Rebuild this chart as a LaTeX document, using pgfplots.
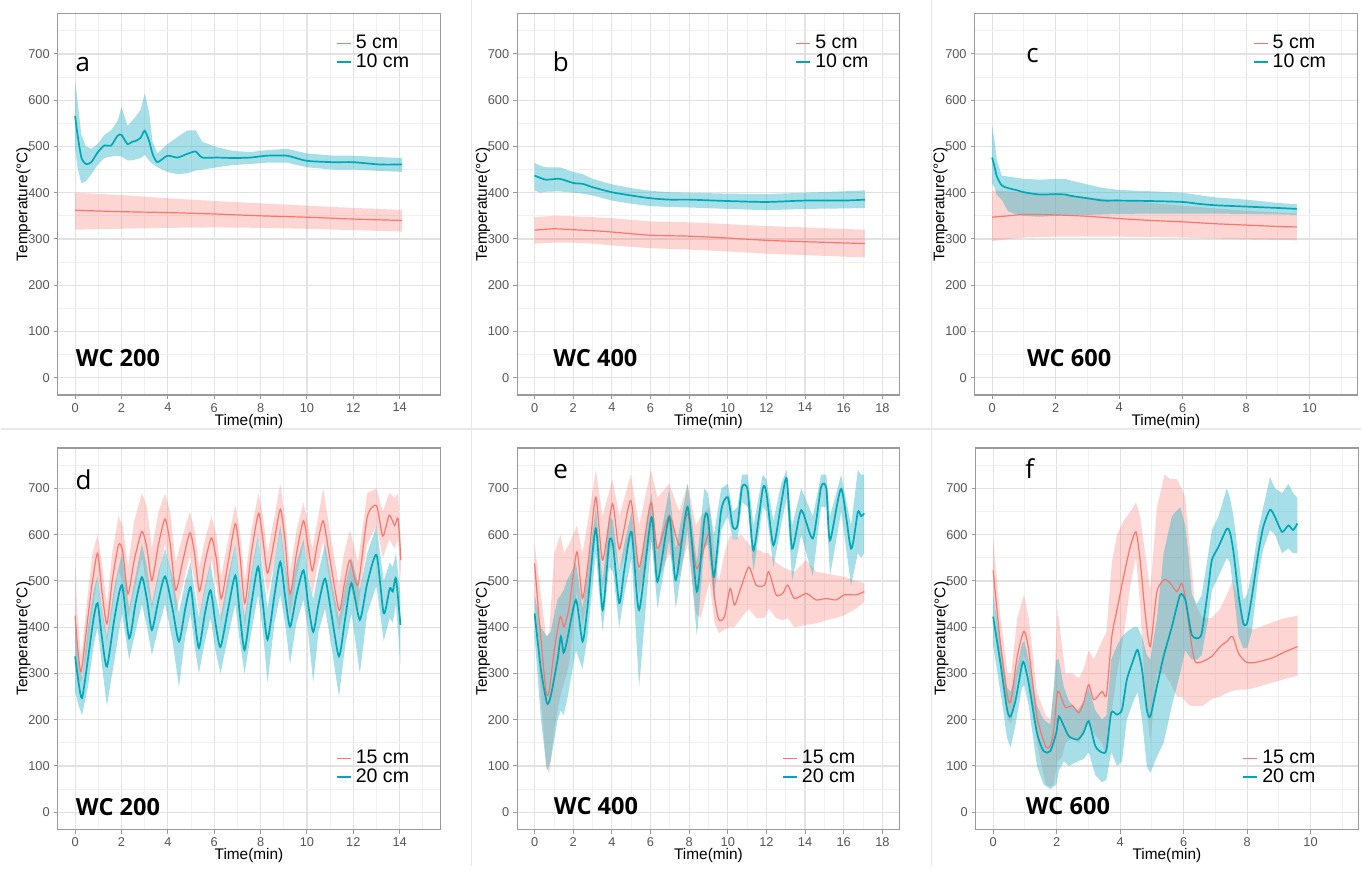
\documentclass[border=0pt]{standalone}
\usepackage{fontspec}
\setmainfont{Liberation Sans}
\newfontfamily\osans{Open Sans}
\usepackage{pgfplots}
\usepackage{pgfplotstable}
\pgfplotsset{compat=1.18}
\usepgfplotslibrary{fillbetween}

\definecolor{cred}{HTML}{F8766D}
\definecolor{cblue}{HTML}{2BB3C6}
\definecolor{cblueln}{HTML}{00A8B6}
\definecolor{gridmaj}{HTML}{E2E2E2}
\definecolor{gridmin}{HTML}{F0F0F0}
\definecolor{ticklab}{HTML}{555555}
\definecolor{frame}{HTML}{9A9A9A}

% t = time (min), m = mean, lo/hi = band
\pgfplotstableread{
t m lo hi
0 362 320 400
2 359 322 395
4 357 324 388
6 354 325 382
8 350 324 377
10 347 322 372
12 343 319 367
14.1 340 316 363
}\aRed
\pgfplotstableread{
t m lo hi
0 566 495 640
0.1 527 455 600
0.27 476 420 525
0.47 462 425 500
0.7 466 440 495
0.97 487 460 505
1.26 502 475 525
1.55 502 478 535
1.83 523 480 555
2.0 525 478 585
2.26 505 470 545
2.45 510 470 555
2.62 512 472 565
2.83 519 475 580
3.0 534 482 615
3.19 512 470 575
3.34 484 462 510
3.55 466 455 485
3.98 480 445 505
4.41 476 440 520
4.84 484 442 535
5.2 489 448 535
5.48 476 450 510
6.13 476 455 498
6.84 475 460 490
7.56 476 462 488
8.27 480 465 492
9.13 480 465 495
9.99 469 455 485
11.14 466 450 480
12.0 466 450 480
13.14 461 447 477
14.1 461 445 475
}\aBlue
\pgfplotstableread{
t m lo hi
0 319 290 347
1 322 292 350
2 320 292 349
3 318 290 347
4 315 286 345
6 308 280 338
8 306 277 336
10 302 273 332
12 297 268 328
14 294 265 325
17.1 290 260 320
}\bRed
\pgfplotstableread{
t m lo hi
0 437 405 465
0.3 432 400 458
0.6 428 402 455
1.3 430 403 455
2 421 400 445
2.5 419 398 440
3 412 394 430
4 401 383 418
5 394 376 410
6 388 371 404
7 385 369 401
8 385 368 400
10 382 365 398
12 380 362 397
14 383 365 400
16 383 366 403
17.1 385 367 405
}\bBlue
\pgfplotstableread{
t m lo hi
0 347 295 405
0.5 350 300 403
1 353 303 400
2 352 305 395
3 349 305 390
4 344 305 385
5 340 304 378
6 337 303 372
7 333 301 366
8 330 299 361
9 327 298 357
9.6 326 297 355
}\cRed
\pgfplotstableread{
t m lo hi
0 476 420 545
0.08 455 410 510
0.15 435 395 470
0.3 416 385 437
0.5 410 360 435
0.8 405 352 432
1 401 350 430
1.5 396 348 428
2 397 350 430
2.3 396 352 430
2.5 393 352 426
3 388 352 418
3.5 383 353 410
4 383 354 406
5 382 355 403
6 380 355 400
6.5 376 355 395
7 373 355 390
8 370 354 385
9 367 353 378
9.6 365 352 375
}\cBlue
\pgfplotstableread{
t m lo hi
0 425 330 545
0.1 360 290 430
0.26 304 280 335
0.5 400 340 450
0.75 500 440 560
0.97 560 510 600
1.15 480 430 540
1.37 407 370 450
1.6 500 440 560
1.87 578 520 640
2.05 565 500 620
2.28 472 420 530
2.55 545 480 630
2.88 607 550 690
3.1 570 490 660
3.31 501 440 570
3.6 580 510 650
3.88 634 580 690
4.1 580 520 650
4.34 480 430 540
4.65 545 490 600
4.95 604 555 650
5.15 560 500 610
5.36 478 425 530
5.6 540 480 590
5.88 593 545 640
6.1 545 490 600
6.3 462 410 510
6.6 540 490 590
6.91 624 580 665
7.1 560 500 610
7.32 452 400 500
7.6 560 510 610
7.91 646 600 690
8.1 590 530 640
8.3 517 470 560
8.6 590 540 640
8.85 655 610 710
9.05 590 530 640
9.27 472 420 520
9.55 560 510 610
9.85 630 580 670
10.05 575 520 620
10.23 522 470 570
10.45 580 530 630
10.7 630 585 700
10.95 560 510 620
11.38 437 390 490
11.6 490 440 560
11.85 545 490 610
12.2 491 440 540
12.6 638 580 690
13.0 663 620 700
13.27 597 550 650
13.55 642 590 690
13.78 620 570 680
13.93 635 590 690
14.05 545 500 580
}\dRed
\pgfplotstableread{
t m lo hi
0 337 260 430
0.15 280 230 330
0.3 247 210 290
0.55 330 270 400
0.8 420 360 480
0.97 452 400 510
1.15 380 320 440
1.37 315 230 380
1.7 420 330 490
2.02 491 430 560
2.33 376 330 440
2.6 450 390 510
2.88 508 450 580
3.1 460 400 530
3.31 394 340 450
3.6 460 400 520
3.88 510 450 570
4.2 440 370 510
4.48 369 270 430
4.75 440 380 500
4.98 487 430 540
5.15 420 360 480
5.34 355 300 420
5.6 430 370 490
5.84 480 420 540
6.05 410 350 470
6.27 357 300 420
6.6 440 380 510
6.91 512 450 580
7.1 430 370 500
7.31 351 300 420
7.6 450 390 520
7.89 531 470 600
8.1 450 390 520
8.3 373 280 440
8.6 470 410 540
8.85 541 470 620
9.05 470 410 540
9.27 401 320 470
9.55 470 410 540
9.85 523 460 590
10.05 450 390 510
10.27 390 280 460
10.5 450 390 520
10.78 505 440 580
11.05 430 360 500
11.38 337 250 420
11.65 420 360 490
11.92 495 430 550
12.28 416 300 480
12.6 495 430 560
13.0 556 490 620
13.31 430 370 500
13.57 484 420 540
13.7 477 410 530
13.84 505 450 560
14.03 405 320 470
}\dBlue
\pgfplotstableread{
t m lo hi
0 538 460 580
0.24 416 300 500
0.59 261 100 380
0.76 263 85 390
1.02 351 180 560
1.33 423 250 600
1.53 401 280 560
1.79 444 320 580
2.19 563 480 620
2.48 462 400 560
2.8 550 480 640
3.17 681 620 740
3.52 545 480 640
4.03 667 590 720
4.39 569 520 640
4.98 674 600 730
5.41 530 470 620
6.02 670 590 740
6.36 570 500 680
6.97 642 560 710
7.49 577 510 650
7.92 645 580 710
8.35 530 430 620
8.6 545 420 640
9.05 602 500 660
9.31 466 410 560
9.54 416 387 500
9.83 423 395 560
10.12 484 400 600
10.35 448 400 590
10.69 487 420 600
11.09 530 440 580
11.47 491 420 570
11.9 491 420 560
12.12 520 440 560
12.5 470 420 540
12.84 473 415 530
13.1 491 420 525
13.45 462 400 520
14.06 473 405 545
14.57 459 408 520
15.09 462 415 516
15.6 459 420 512
16.04 470 426 509
16.64 470 440 500
17.07 477 455 495
}\eRed
\pgfplotstableread{
t m lo hi
0 430 380 470
0.33 308 200 400
0.64 236 90 380
0.83 250 110 390
1.19 330 200 460
1.36 380 220 470
1.5 345 210 480
1.67 369 240 500
2.14 459 350 540
2.48 369 310 440
2.74 444 380 520
3.17 613 560 660
3.52 437 390 500
3.86 584 530 640
4.06 577 520 630
4.38 452 400 520
4.64 523 470 580
5.02 606 550 650
5.41 437 270 520
6.05 638 590 690
6.36 498 440 560
6.97 638 590 700
7.31 502 440 570
7.92 660 610 710
8.4 477 380 540
8.78 631 570 700
8.97 638 580 690
9.28 509 460 600
9.66 653 610 700
10.0 681 640 710
10.26 617 590 650
10.5 620 590 660
10.74 703 670 730
11.03 696 660 730
11.33 566 520 620
11.81 699 660 730
12.0 690 650 720
12.36 577 530 630
12.76 667 620 710
13.05 721 680 740
13.33 570 500 620
13.8 653 600 700
14.4 592 510 640
14.83 703 660 730
15.1 700 660 730
15.29 588 510 640
15.87 699 650 730
16.38 570 490 620
16.73 649 560 740
16.9 640 550 730
17.06 646 560 730
}\eBlue
\pgfplotstableread{
t m lo hi
0 523 470 590
0.23 365 320 420
0.46 247 200 300
0.57 244 190 300
0.76 337 290 420
0.97 391 340 470
1.12 351 300 420
1.38 207 150 260
1.65 143 60 210
1.8 143 55 200
1.91 179 60 260
2.03 261 110 440
2.17 244 120 360
2.28 226 150 300
2.5 230 160 300
2.7 215 150 290
2.85 237 170 310
3.01 276 200 350
3.17 243 170 330
3.43 261 150 370
3.57 254 120 390
3.74 380 220 540
3.9 437 300 600
4.11 509 380 630
4.32 574 490 650
4.5 606 550 670
4.63 545 450 640
4.79 430 250 560
4.95 358 150 480
5.16 477 300 660
5.4 503 300 730
5.58 495 280 720
5.79 477 250 720
5.94 495 250 700
6.05 465 240 680
6.21 380 230 560
6.36 326 230 450
6.6 326 230 420
6.89 337 245 420
7.15 358 250 440
7.36 369 258 470
7.54 380 262 500
7.73 344 265 460
7.94 326 265 400
8.2 323 268 395
8.77 333 280 410
9.2 347 288 420
9.59 358 295 425
}\fRed
\pgfplotstableread{
t m lo hi
0 423 360 470
0.23 322 260 370
0.44 222 160 270
0.55 207 140 260
0.71 243 190 300
0.91 319 270 365
0.98 322 275 370
1.12 279 230 330
1.38 172 100 230
1.59 132 60 200
1.8 132 50 190
1.99 172 60 330
2.07 207 90 330
2.23 186 110 270
2.39 164 100 240
2.66 157 110 220
2.85 172 115 240
3.01 197 130 270
3.22 143 80 220
3.43 129 65 200
3.57 135 70 210
3.72 215 130 330
3.9 211 100 360
4.06 222 110 380
4.21 286 200 390
4.42 330 240 400
4.55 351 260 400
4.69 308 200 380
4.84 222 100 340
4.95 207 85 330
5.16 272 120 420
5.37 337 150 560
5.63 401 230 640
5.89 470 300 660
6.05 460 350 620
6.15 423 340 560
6.26 383 330 470
6.42 376 330 450
6.57 387 340 470
6.78 487 420 560
6.89 545 480 610
7.1 574 510 640
7.36 613 550 700
7.46 605 540 680
7.57 563 480 640
7.73 470 380 550
7.88 409 355 460
8.0 409 355 470
8.15 466 390 520
8.35 559 510 610
8.51 617 570 660
8.72 654 610 725
8.88 638 600 700
9.1 606 560 690
9.3 620 570 710
9.45 610 560 690
9.58 624 560 680
}\fBlue

\pgfplotsset{
  panel/.style={
    scale only axis, width=191.5pt, height=191pt,
    anchor=north west,
    ymin=-37.5, ymax=787.5,
    ytick={0,100,...,700}, minor ytick={50,150,...,750},
    grid=both,
    major grid style={gridmaj, line width=0.6pt},
    minor grid style={gridmin, line width=0.4pt},
    axis line style={frame, line width=0.6pt},
    tick pos=left, tick align=outside,
    major tick length=2pt, minor tick length=0pt,
    tick style={frame, line width=0.5pt},
    /pgf/number format/assume math mode=true,
    tick label style={font=\fontsize{6.4}{7}\selectfont, text=ticklab},
    xticklabel style={yshift=1.5pt},
    yticklabel style={xshift=1.5pt},
    xlabel={Time(min)}, ylabel={Temperature(°C)},
    label style={font=\fontsize{7.7}{8}\selectfont},
    xlabel style={yshift=6pt},
    ylabel style={yshift=-8pt},
    legend style={draw=none, fill=none, font=\fontsize{9.8}{10}\selectfont,
      inner sep=0pt, row sep=-3pt},
    legend cell align=left,
    legend image code/.code={\draw[#1] (0pt,0pt) -- (7pt,0pt);},
  },
  topleg/.style={legend style={at={(0.93,0.955)}, anchor=north east}},
  botleg/.style={legend style={at={(0.93,0.105)}, anchor=south east}},
  rline/.style={cred, line width=0.6pt, smooth, tension=0.4},
  bline/.style={cblueln, line width=0.85pt, smooth, tension=0.4},
  xa/.style={xmin=-0.75, xmax=15.75, xtick={0,2,...,14}, minor xtick={1,3,...,15}},
  xb/.style={xmin=-0.9, xmax=18.9, xtick={0,2,...,18}, minor xtick={1,3,...,17}},
  xc/.style={xmin=-0.55, xmax=11.5, xtick={0,2,...,10}, minor xtick={1,3,...,11}},
}

\newcommand\ribbon[4]{%
  \addplot[draw=none, name path=#3h, forget plot] table[x=t,y=hi]{#1};
  \addplot[draw=none, name path=#3l, forget plot] table[x=t,y=lo]{#1};
  \addplot[fill=#2, fill opacity=#4, draw=none, forget plot] fill between[of=#3h and #3l];
}
\newcommand\letter[3]{\node[anchor=base west, inner sep=0pt, font=\osans\fontsize{13}{13}\selectfont] at (axis cs:#1,#2) {#3};}
\newcommand\wc[3]{\node[anchor=base west, inner sep=0pt, font=\osans\bfseries\fontsize{11.8}{12}\selectfont] at (axis cs:#1,#2) {#3};}

\begin{document}
\begin{tikzpicture}
\path (0pt,0pt) rectangle (681pt,433.5pt);
\draw[gray!18, line width=0.5pt] (235.5pt,433.5pt) -- (235.5pt,0pt);
\draw[gray!18, line width=0.5pt] (466pt,433.5pt) -- (466pt,0pt);
\draw[gray!18, line width=0.8pt] (0pt,219pt) -- (681pt,219pt);

% a
\begin{axis}[panel, xa, topleg, at={(28.5pt,427pt)}]
\ribbon{\aRed}{cred}{ar}{0.3}
\ribbon{\aBlue}{cblue}{ab}{0.42}
\addplot[rline] table[x=t,y=m]{\aRed}; \addlegendentry{5 cm}
\addplot[bline] table[x=t,y=m]{\aBlue}; \addlegendentry{10 cm}
\letter{0}{662}{a}
\wc{0.02}{24}{WC 200}
\end{axis}

% b
\begin{axis}[panel, xb, topleg, at={(258.5pt,427pt)}]
\ribbon{\bRed}{cred}{br}{0.3}
\ribbon{\bBlue}{cblue}{bb}{0.42}
\addplot[rline] table[x=t,y=m]{\bRed}; \addlegendentry{5 cm}
\addplot[bline] table[x=t,y=m]{\bBlue}; \addlegendentry{10 cm}
\letter{0.93}{662}{b}
\wc{0.95}{24}{WC 400}
\end{axis}

% c
\begin{axis}[panel, xc, topleg, at={(487.5pt,427pt)}]
\ribbon{\cRed}{cred}{cr}{0.3}
\ribbon{\cBlue}{cblue}{cb}{0.42}
\addplot[rline] table[x=t,y=m]{\cRed}; \addlegendentry{5 cm}
\addplot[bline] table[x=t,y=m]{\cBlue}; \addlegendentry{10 cm}
\letter{1.07}{681}{c}
\wc{1.09}{24}{WC 600}
\end{axis}

% d
\begin{axis}[panel, xa, botleg, at={(28.5pt,209.5pt)}]
\ribbon{\dRed}{cred}{dr}{0.3}
\ribbon{\dBlue}{cblue}{db}{0.42}
\addplot[rline] table[x=t,y=m]{\dRed}; \addlegendentry{15 cm}
\addplot[bline] table[x=t,y=m]{\dBlue}; \addlegendentry{20 cm}
\letter{0}{697}{d}
\wc{0.02}{-8}{WC 200}
\end{axis}

% e
\begin{axis}[panel, xb, botleg, legend style={at={(0.895,0.105)}}, at={(258.5pt,209.5pt)}]
\ribbon{\eRed}{cred}{er}{0.3}
\ribbon{\eBlue}{cblue}{eb}{0.42}
\addplot[rline] table[x=t,y=m]{\eRed}; \addlegendentry{15 cm}
\addplot[bline] table[x=t,y=m]{\eBlue}; \addlegendentry{20 cm}
\letter{0.95}{721}{e}
\wc{0.98}{-4}{WC 400}
\end{axis}

% f
\begin{axis}[panel, xc, botleg, legend style={at={(0.9,0.105)}}, at={(488pt,209.5pt)}]
\ribbon{\fRed}{cred}{fr}{0.3}
\ribbon{\fBlue}{cblue}{fb}{0.42}
\addplot[rline] table[x=t,y=m]{\fRed}; \addlegendentry{15 cm}
\addplot[bline] table[x=t,y=m]{\fBlue}; \addlegendentry{20 cm}
\letter{1.0}{721}{f}
\wc{1.02}{-4}{WC 600}
\end{axis}
\end{tikzpicture}
\end{document}
